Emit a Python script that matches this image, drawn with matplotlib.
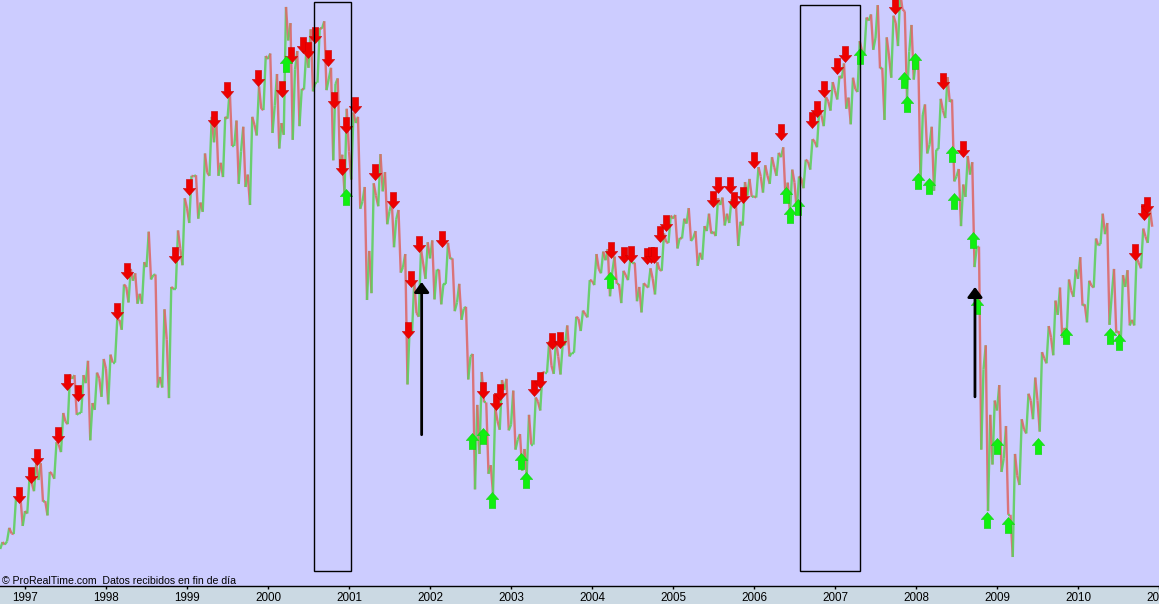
import numpy as np
import matplotlib
matplotlib.use("Agg")
import matplotlib.pyplot as plt
from matplotlib.collections import LineCollection
from matplotlib.patches import Rectangle
from matplotlib.path import Path

# monthly bars, first month = Sep 1996, last = Nov 2010
first_month = 1996 + 8 / 12
first_open = 683

month_high = [
    691, 714, 762, 762,
    795, 818, 818, 804, 852, 899, 961, 960, 960, 983, 964, 986,
    993, 1050, 1106, 1131, 1124, 1142, 1191, 1122, 1066, 1102, 1193, 1245,
    1281, 1282, 1317, 1376, 1373, 1376, 1420, 1370, 1360, 1376, 1425, 1474,
    1478, 1445, 1553, 1527, 1482, 1481, 1517, 1519, 1530, 1455, 1438, 1389,
    1383, 1376, 1263, 1269, 1316, 1287, 1240, 1226, 1155, 1111, 1163, 1174,
    1177, 1130, 1173, 1148, 1107, 1070, 994, 965, 916, 907, 952, 954,
    935, 865, 896, 924, 965, 1015, 1015, 1011, 1040, 1054, 1064, 1113,
    1155, 1159, 1163, 1151, 1128, 1146, 1141, 1108, 1132, 1142, 1188, 1217,
    1218, 1212, 1229, 1192, 1200, 1220, 1245, 1246, 1243, 1233, 1271, 1276,
    1295, 1298, 1311, 1318, 1327, 1291, 1280, 1307, 1340, 1389, 1408, 1432,
    1442, 1462, 1439, 1498, 1536, 1541, 1556, 1504, 1539, 1576, 1546, 1524,
    1472, 1396, 1360, 1405, 1440, 1404, 1292, 1313, 1303, 1167, 1008, 919,
    944, 878, 833, 889, 930, 956, 997, 1039, 1080, 1101, 1114, 1130,
    1150, 1112, 1180, 1220, 1205, 1131, 1121, 1129, 1149, 1196, 1227,
]
month_low = [
    680, 692, 704, 717,
    737, 773, 756, 734, 793, 836, 881, 896, 899, 855, 904, 925,
    913, 980, 1033, 1077, 1075, 1075, 1114, 940, 940, 923, 1099, 1137,
    1205, 1212, 1223, 1281, 1281, 1279, 1329, 1268, 1263, 1234, 1346, 1387,
    1350, 1325, 1347, 1339, 1361, 1420, 1417, 1431, 1419, 1306, 1295, 1254,
    1275, 1228, 1081, 1092, 1232, 1203, 1166, 1125, 945, 1027, 1054, 1115,
    1082, 1074, 1107, 1063, 1049, 953, 776, 833, 801, 769, 872, 871,
    840, 806, 801, 848, 903, 964, 962, 961, 990, 996, 1031, 1053,
    1105, 1124, 1087, 1107, 1076, 1113, 1079, 1061, 1101, 1090, 1128, 1173,
    1164, 1180, 1176, 1136, 1146, 1188, 1184, 1201, 1205, 1168, 1201, 1247,
    1246, 1254, 1268, 1281, 1245, 1219, 1225, 1261, 1291, 1327, 1361, 1386,
    1404, 1389, 1364, 1416, 1477, 1484, 1454, 1371, 1439, 1490, 1406, 1436,
    1270, 1317, 1257, 1324, 1374, 1272, 1200, 1247, 1134, 840, 741, 816,
    804, 735, 667, 783, 866, 889, 869, 979, 992, 1020, 1029, 1086,
    1072, 1045, 1101, 1171, 1041, 1028, 1011, 1040, 1040, 1132, 1173,
]
month_close = [
    687, 705, 757, 741,
    786, 791, 757, 801, 848, 885, 954, 899, 947, 915, 955, 970,
    980, 1049, 1102, 1112, 1091, 1134, 1121, 957, 1017, 1099, 1164, 1229,
    1280, 1238, 1286, 1335, 1302, 1373, 1329, 1320, 1283, 1363, 1389, 1469,
    1394, 1366, 1499, 1452, 1421, 1455, 1431, 1518, 1437, 1429, 1315, 1320,
    1366, 1240, 1160, 1249, 1256, 1224, 1211, 1134, 1041, 1060, 1139, 1148,
    1130, 1107, 1147, 1077, 1067, 990, 912, 916, 815, 886, 936, 880,
    856, 841, 848, 917, 964, 975, 990, 1008, 996, 1051, 1058, 1112,
    1131, 1145, 1126, 1107, 1121, 1141, 1102, 1104, 1115, 1130, 1174, 1212,
    1181, 1204, 1181, 1157, 1192, 1191, 1234, 1220, 1229, 1207, 1249, 1248,
    1280, 1281, 1295, 1311, 1270, 1270, 1277, 1304, 1336, 1378, 1401, 1418,
    1438, 1407, 1421, 1482, 1531, 1503, 1455, 1474, 1527, 1549, 1481, 1468,
    1379, 1331, 1323, 1386, 1400, 1280, 1267, 1283, 1166, 969, 896, 903,
    826, 735, 798, 873, 919, 919, 987, 1021, 1057, 1036, 1096, 1115,
    1074, 1104, 1169, 1187, 1089, 1031, 1102, 1049, 1141, 1183, 1199,
]

# signal arrows (decimal year, price)
sell_dates = [1996.92, 1997.08, 1997.15, 1997.41, 1997.52, 1997.65, 1998.14, 1998.26,
              1998.85, 1999.02, 1999.33, 1999.50, 1999.88, 2000.17, 2000.28, 2000.43,
              2000.49, 2000.58, 2000.74, 2000.81, 2000.96, 2000.91, 2001.08, 2001.32,
              2001.54, 2001.73, 2001.77, 2001.87, 2002.15, 2002.66, 2002.81, 2002.87,
              2003.28, 2003.36, 2003.51, 2003.60, 2004.24, 2004.40, 2004.48, 2004.68,
              2004.73, 2004.77, 2004.84, 2004.91, 2005.50, 2005.56, 2005.70, 2005.75,
              2005.86, 2006.00, 2006.33, 2006.72, 2006.78, 2006.86, 2007.03, 2007.12,
              2007.74, 2008.33, 2008.58, 2010.70, 2010.82, 2010.85]
sell_prices = [754, 786, 815, 851, 936, 918, 1050, 1115,
               1141, 1250, 1360, 1406, 1426, 1408, 1463, 1479,
               1471, 1495, 1458, 1390, 1350, 1282, 1382, 1274,
               1229, 1020, 1102, 1158, 1166, 923, 904, 920,
               926, 939, 1002, 1004, 1149, 1141, 1142, 1139,
               1141, 1141, 1174, 1192, 1231, 1253, 1253, 1229,
               1237, 1293, 1339, 1358, 1376, 1408, 1445, 1464,
               1542, 1421, 1311, 1145, 1210, 1221]
buy_dates = [2000.22, 2000.96, 2002.52, 2002.66, 2002.76, 2003.12, 2003.18, 2004.22,
             2006.40, 2006.44, 2006.54, 2007.31, 2007.85, 2007.89, 2007.99, 2008.03,
             2008.16, 2008.44, 2008.47, 2008.70, 2008.75, 2008.88, 2009.00, 2009.13,
             2009.51, 2009.85, 2010.40, 2010.51]
buy_prices = [1474, 1260, 867, 875, 772, 835, 804, 1126,
              1263, 1231, 1244, 1487, 1448, 1410, 1479, 1286,
              1278, 1329, 1253, 1191, 1084, 740, 859, 731,
              859, 1036, 1036, 1026]

# highlighted periods and annotation arrows
boxes = [(2000.568, 2001.025, 644, 1561), (2006.568, 2007.309, 644, 1556)]
pointers = [(2001.897, 864, 1110), (2008.728, 925, 1102)]

GREEN = "#5fcf5f"
RED = "#dc6a6a"

fig = plt.figure(figsize=(11.59, 6.04), dpi=100)
fig.patch.set_facecolor("#cbd9e3")
ax = fig.add_axes([0, 18 / 604, 1, 586 / 604])
ax.set_facecolor("#ccccff")

# zigzag open -> low/high -> high/low -> close inside every month
t, p = [first_month], [first_open]
prev = first_open
for i, (h, l, c) in enumerate(zip(month_high, month_low, month_close)):
    t0 = first_month + i / 12
    a, b = (l, h) if c >= prev else (h, l)
    t += [t0 + 1 / 36, t0 + 2 / 36, t0 + 3 / 36]
    p += [a, b, c]
    prev = c
t = np.array(t)
p = np.array(p)
segs = np.stack([np.column_stack([t[:-1], p[:-1]]), np.column_stack([t[1:], p[1:]])], axis=1)
cols = [GREEN if p[k + 1] >= p[k] else RED for k in range(len(p) - 1)]
ax.add_collection(LineCollection(segs, colors=cols, linewidths=1.7, alpha=0.9))

# arrow markers, tip at the origin
down_arrow = Path([(0, 0), (6.2, 7), (3.1, 7), (3.1, 16), (-3.1, 16), (-3.1, 7), (-6.2, 7), (0, 0)],
                  [Path.MOVETO] + [Path.LINETO] * 6 + [Path.CLOSEPOLY])
up_arrow = Path([(0, 0), (6.2, -7), (3.2, -7), (3.2, -16), (-3.2, -16), (-3.2, -7), (-6.2, -7), (0, 0)],
                [Path.MOVETO] + [Path.LINETO] * 6 + [Path.CLOSEPOLY])
ax.plot(sell_dates, sell_prices, ls="none", marker=down_arrow, ms=23,
        mfc="#ee0000", mec="#cc0000", mew=0.4, zorder=4)
ax.plot(buy_dates, buy_prices, ls="none", marker=up_arrow, ms=23,
        mfc="#10f010", mec="#10d010", mew=0.4, zorder=4)

for x0, x1, y0, y1 in boxes:
    ax.add_patch(Rectangle((x0, y0), x1 - x0, y1 - y0, fill=False, ec="black", lw=1, zorder=5))

for x, tail, tip in pointers:
    ax.annotate("", xy=(x, tip), xytext=(x, tail),
                arrowprops=dict(arrowstyle="-|>,head_length=0.5,head_width=0.37",
                                color="black", lw=2, mutation_scale=12,
                                shrinkA=0, shrinkB=0), zorder=6)

ax.set_xlim(1996.6914, 2011.0)
ax.set_ylim(620.3, 1564.2)
for s in ["top", "left", "right"]:
    ax.spines[s].set_visible(False)
ax.spines["bottom"].set_color("black")
ax.spines["bottom"].set_linewidth(1)
years = list(range(1997, 2012))
ax.set_xticks(years)
ax.set_xticklabels([str(y) for y in years], fontsize=8.4, family="Liberation Sans")
ax.tick_params(axis="x", direction="out", length=2.5, width=1, pad=1.5)
ax.set_yticks([])

fig.text(2 / 1159, (604 - 584) / 604, "\u00a9 ProRealTime.com  Datos recibidos en fin de d\u00eda",
         fontsize=7.6, family="Liberation Sans", va="baseline", ha="left")

fig.savefig("out.png", dpi=100, facecolor=fig.get_facecolor())
